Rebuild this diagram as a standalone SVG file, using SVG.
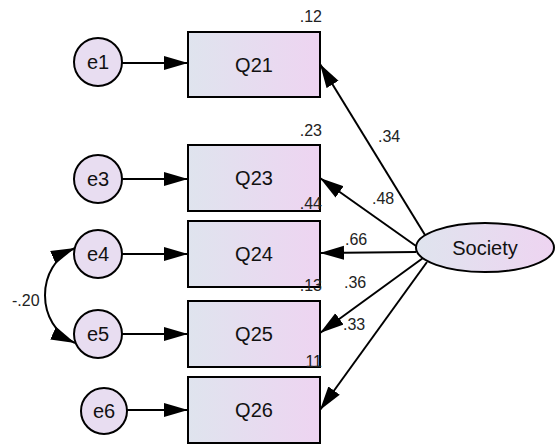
<svg xmlns="http://www.w3.org/2000/svg" width="555" height="446" viewBox="0 0 555 446">
  <defs>
    <linearGradient id="fillGrad" x1="0" y1="0" x2="1" y2="0">
      <stop offset="0" stop-color="#dfe4ee"/>
      <stop offset="1" stop-color="#eed4f1"/>
    </linearGradient>
    <marker id="arrow" markerUnits="userSpaceOnUse" markerWidth="26" markerHeight="15" refX="24" refY="7.5" orient="auto-start-reverse" viewBox="0 0 26 15">
      <path d="M0,0.5 L24,7.5 L0,14.5 z" fill="#000"/>
    </marker>
    <style>
      .obs rect { fill: url(#fillGrad); stroke: #000; stroke-width: 2; }
      .err circle { fill: #e8ddf1; stroke: #000; stroke-width: 2; }
      .lat ellipse { fill: url(#fillGrad); stroke: #000; stroke-width: 2; }
      .name { font-family: "Liberation Sans", Arial, sans-serif; font-size: 20px; fill: #111; text-anchor: middle; }
      .num { font-family: "Liberation Sans", Arial, sans-serif; font-size: 16px; fill: #222; }
      .end { text-anchor: end; }
      #connectors path, #connectors line { stroke: #000; stroke-width: 2; fill: none; marker-end: url(#arrow); }
      #connectors path.cov { marker-start: url(#arrow); }
    </style>
  </defs>

  <!-- observed variables -->
  <g id="Q21" class="obs">
    <rect x="188" y="32" width="132" height="65"/>
    <text class="name" x="254" y="72">Q21</text>
  </g>
  <g id="Q23" class="obs">
    <rect x="188" y="145" width="132" height="66"/>
    <text class="name" x="254" y="185">Q23</text>
  </g>
  <g id="Q24" class="obs">
    <rect x="188" y="221" width="132" height="66"/>
    <text class="name" x="254" y="261">Q24</text>
  </g>
  <g id="Q25" class="obs">
    <rect x="188" y="301" width="132" height="66"/>
    <text class="name" x="254" y="341">Q25</text>
  </g>
  <g id="Q26" class="obs">
    <rect x="188" y="377" width="132" height="66"/>
    <text class="name" x="254" y="417">Q26</text>
  </g>

  <!-- squared multiple correlations, drawn over the boxes -->
  <g id="r2-labels">
    <text class="num end" x="322" y="22">.12</text>
    <text class="num end" x="322" y="136">.23</text>
    <text class="num end" x="322" y="209">.44</text>
    <text class="num end" x="322" y="291">.13</text>
    <text class="num end" x="322" y="367">11</text>
  </g>

  <!-- error terms -->
  <g id="e1" class="err">
    <circle cx="98" cy="62" r="24"/>
    <text class="name" x="98" y="69">e1</text>
  </g>
  <g id="e3" class="err">
    <circle cx="98" cy="179" r="24"/>
    <text class="name" x="98" y="186">e3</text>
  </g>
  <g id="e4" class="err">
    <circle cx="98" cy="254" r="24"/>
    <text class="name" x="98" y="261">e4</text>
  </g>
  <g id="e5" class="err">
    <circle cx="98" cy="334" r="24"/>
    <text class="name" x="98" y="341">e5</text>
  </g>
  <g id="e6" class="err">
    <circle cx="104" cy="411" r="23"/>
    <text class="name" x="104" y="418">e6</text>
  </g>

  <!-- latent factor -->
  <g id="Society" class="lat">
    <ellipse cx="485" cy="247.5" rx="69" ry="24.5"/>
    <text class="name" x="485" y="255">Society</text>
  </g>

  <!-- paths -->
  <g id="connectors">
    <line x1="122" y1="63" x2="188" y2="63"/>
    <line x1="122" y1="179" x2="188" y2="179"/>
    <line x1="122" y1="254" x2="188" y2="254"/>
    <line x1="122" y1="334" x2="188" y2="334"/>
    <line x1="127" y1="410" x2="188" y2="410"/>

    <line x1="425" y1="235" x2="320" y2="64"/>
    <line x1="416" y1="246" x2="320" y2="178"/>
    <line x1="416" y1="252" x2="320" y2="253"/>
    <line x1="423" y1="258" x2="320" y2="333"/>
    <line x1="427" y1="262" x2="320" y2="410"/>

    <path class="cov" d="M75,248 C35,265 35,325 75,343"/>
  </g>

  <!-- path coefficients -->
  <g id="coefficients">
    <text class="num" x="378" y="142">.34</text>
    <text class="num" x="372" y="204">.48</text>
    <text class="num" x="345" y="245">.66</text>
    <text class="num" x="344" y="288">.36</text>
    <text class="num" x="343" y="330">.33</text>
    <text class="num" x="12" y="306">-.20</text>
  </g>
</svg>
